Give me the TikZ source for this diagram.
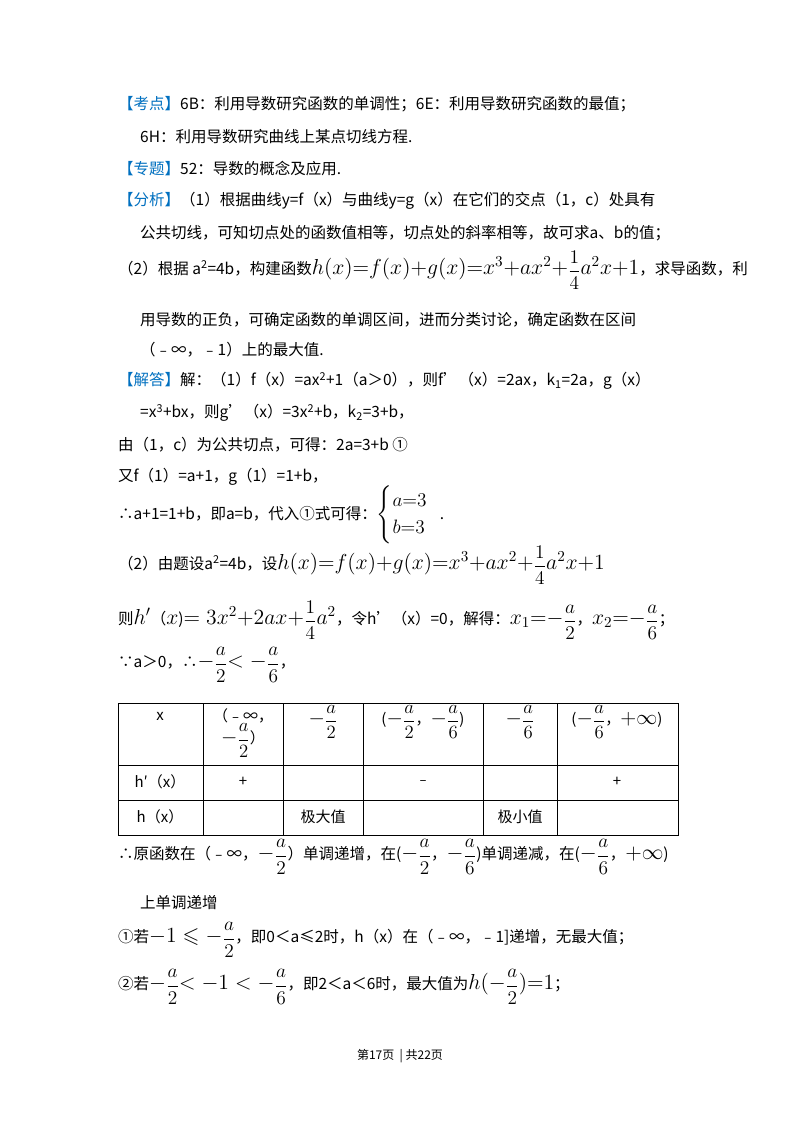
\RequirePackage{fix-cm}
\documentclass[tikz,border=0pt]{standalone}
\usepackage{fontspec}
\usepackage{amsmath,amssymb,graphicx}
\setmainfont{Noto Sans CJK SC}
\definecolor{kblue}{RGB}{0,112,192}
\newcommand\kb[1]{\textcolor{kblue}{【#1】}}
\newcommand\fr[2]{\raisebox{-0.2ex}{\scalebox{1.25}{$\dfrac{#1}{#2}$}}}
\newcommand\mm[1]{\scalebox{1.4}{$#1$}}
\begin{document}
\begin{tikzpicture}[x=1pt,y=-1pt,
  txt/.style={anchor=west,inner sep=0,font=\fontsize{15.5}{18}\selectfont},
  cell/.style={inner sep=0,font=\fontsize{15}{18}\selectfont},
  grid/.style={line width=0.8pt}]
\useasboundingbox (0,0) rectangle (800,1132);
\fill[white] (0,0) rectangle (800,1132);
\node[txt] (l1) at (118,104) {\kb{考点}6B：利用导数研究函数的单调性；6E：利用导数研究函数的最值；};
\node[txt] (l2) at (140,137) {6H：利用导数研究曲线上某点切线方程.};
\node[txt] (l3) at (118,169) {\kb{专题}52：导数的概念及应用.};
\node[txt] (l4) at (118,201) {\kb{分析}（1）根据曲线y=f（x）与曲线y=g（x）在它们的交点（1，c）处具有};
\node[txt] (l5) at (140,233) {公共切线，可知切点处的函数值相等，切点处的斜率相等，故可求a、b的值；};
\node[txt] (l6) at (118,270) {（2）根据 a\textsuperscript{2}=4b，构建函数\mm{h(x){=}f(x){+}g(x){=}x^3{+}ax^2{+}}\fr{1}{4}\mm{a^2x{+}1}，求导函数，利};
\node[txt] (l7) at (140,320) {用导数的正负，可确定函数的单调区间，进而分类讨论，确定函数在区间};
\node[txt] (l8) at (140,350) {（﹣∞，﹣1）上的最大值.};
\node[txt] (l9) at (118,381) {\kb{解答}解：（1）f（x）=ax\textsuperscript{2}+1（a＞0），则f'（x）=2ax，k\textsubscript{1}=2a，g（x）};
\node[txt] (l10) at (140,413) {=x\textsuperscript{3}+bx，则g'（x）=3x\textsuperscript{2}+b，k\textsubscript{2}=3+b，};
\node[txt] (l11) at (118,445) {由（1，c）为公共切点，可得：2a=3+b ①};
\node[txt] (l12) at (118,477) {又f（1）=a+1，g（1）=1+b，};
\node[txt] (l13) at (118,515) {∴a+1=1+b，即a=b，代入①式可得：\scalebox{1.25}{$\begin{cases}a{=}3\\ b{=}3\end{cases}$}\!\!\!.};
\node[txt] (l14) at (118,565) {（2）由题设a\textsuperscript{2}=4b，设\mm{h(x){=}f(x){+}g(x){=}x^3{+}ax^2{+}}\fr{1}{4}\mm{a^2x{+}1}};
\node[txt] (l15) at (118,620) {则\mm{h'}（\mm{x})\mm{=3x^2{+}2ax{+}}\fr{1}{4}\mm{a^2}，令h'（x）=0，解得：\mm{x_1{=}{-}}\fr{a}{2}，\mm{x_2{=}{-}}\fr{a}{6}；};
\node[txt] (l16) at (118,665) {∵a＞0，∴\mm{-}\fr{a}{2}\mm{<-}\fr{a}{6}，};
% table
\draw[grid] (118,703) rectangle (678,835);
\draw[grid] (118,765) -- (678,765) (118,800) -- (678,800);
\foreach \x in {203,283,363,483,557} \draw[grid] (\x,703) -- (\x,835);
\node[cell] (c1) at (160,716) {x};
\node[cell,align=center] (c2) at (243,733) {（﹣∞，\\ \mm{-}\fr{a}{2}）};
\node[cell] (c3) at (323,722) {\mm{-}\fr{a}{2}};
\node[cell] (c4) at (423,722) {(\mm{-}\fr{a}{2}，\mm{-}\fr{a}{6})};
\node[cell] (c5) at (520,722) {\mm{-}\fr{a}{6}};
\node[cell] (c6) at (617,722) {(\mm{-}\fr{a}{6}，\mm{+\infty})};
\node[cell] (c7) at (160,782) {h′（x）};
\node[cell] (c8) at (243,782) {+};
\node[cell] (c9) at (423,782) {﹣};
\node[cell] (c10) at (617,782) {+};
\node[cell] (c11) at (160,817) {h（x）};
\node[cell] (c12) at (323,817) {极大值};
\node[cell] (c13) at (520,817) {极小值};
\node[txt] (l17) at (118,857) {∴原函数在（﹣∞，\mm{-}\fr{a}{2}）单调递增，在(\mm{-}\fr{a}{2}，\mm{-}\fr{a}{6})单调递减，在(\mm{-}\fr{a}{6}，\mm{+\infty})};
\node[txt] (l18) at (140,903) {上单调递增};
\node[txt] (l19) at (118,940) {①若\mm{-1\leqslant-}\fr{a}{2}，即0＜a≤2时，h（x）在（﹣∞，﹣1]递增，无最大值；};
\node[txt] (l20) at (118,987) {②若\mm{-}\fr{a}{2}\mm{<-1<-}\fr{a}{6}，即2＜a＜6时，最大值为\mm{h(-}\fr{a}{2}\mm{){=}1}；};
\node[inner sep=0,font=\fontsize{12}{14}\selectfont] (ft) at (400,1056) {第17页 \ | 共22页};
\end{tikzpicture}
\end{document}
